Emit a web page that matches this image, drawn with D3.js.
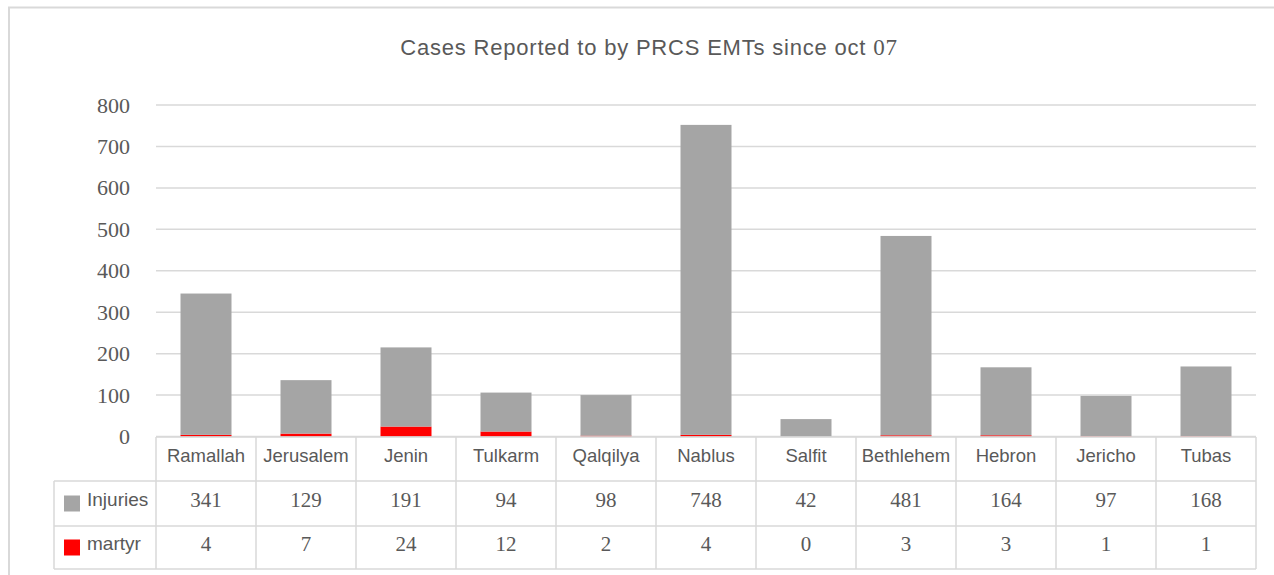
<!DOCTYPE html>
<html>
<head>
<meta charset="utf-8">
<script src="https://cdn.jsdelivr.net/npm/d3@7"></script>
<style>
  body { margin: 0; background: #fff; }
  svg { display: block; }
</style>
</head>
<body>
<div id="chart"></div>
<script>
// Data
const categories = ['Ramallah', 'Jerusalem', 'Jenin', 'Tulkarm', 'Qalqilya', 'Nablus', 'Salfit', 'Bethlehem', 'Hebron', 'Jericho', 'Tubas'];
const injuries = [341, 129, 191, 94, 98, 748, 42, 481, 164, 97, 168];
const martyr = [4, 7, 24, 12, 2, 4, 0, 3, 3, 1, 1];
const yTicks = [0, 100, 200, 300, 400, 500, 600, 700, 800];
const seriesNames = ['Injuries', 'martyr'];
const seriesColors = { Injuries: '#a5a5a5', martyr: '#ff0000' };

const width = 1274, height = 575;
const gridColor = '#d9d9d9';
const textColor = '#595959';
const serif = '"Liberation Serif", "Times New Roman", serif';
const sans = '"Liberation Sans", Arial, sans-serif';

const svg = d3.select('#chart')
    .append('svg')
    .attr('width', width)
    .attr('height', height);

// Chart frame (top + left edge visible)
svg.append('path')
    .attr('d', `M9,${height} L9,7.5 L${width},7.5`)
    .attr('fill', 'none')
    .attr('stroke', gridColor)
    .attr('stroke-width', 2);

// Title
const title = svg.append('text')
    .attr('x', 649)
    .attr('y', 55)
    .attr('text-anchor', 'middle')
    .attr('fill', textColor)
    .style('font-size', '22px')
    .style('letter-spacing', '0.8px')
    .style('font-family', sans);
title.append('tspan').text('Cases Reported to by PRCS EMTs since oct ');
title.append('tspan').style('font-family', serif).style('font-size', '23px').text('07');

// Scales
const x = d3.scaleBand()
    .domain(categories)
    .range([156, 1256])
    .paddingInner(0.49)
    .paddingOuter(0.245);

const y = d3.scaleLinear()
    .domain([0, 800])
    .range([436.5, 105]);

// Gridlines
svg.append('g')
    .selectAll('line')
    .data(yTicks)
    .join('line')
    .attr('x1', 156)
    .attr('x2', 1256)
    .attr('y1', d => y(d))
    .attr('y2', d => y(d))
    .attr('stroke', gridColor)
    .attr('stroke-width', 1.5);

// Y axis labels
const yAxis = svg.append('g')
    .attr('transform', 'translate(130,0)')
    .call(d3.axisLeft(y).tickValues(yTicks).tickSize(0).tickPadding(0));
yAxis.select('.domain').remove();
yAxis.selectAll('text')
    .attr('fill', textColor)
    .style('font-size', '22px')
    .style('font-family', serif);

// Stacked bars (martyr at bottom, injuries on top)
const rows = categories.map((c, i) => ({ cat: c, martyr: martyr[i], Injuries: injuries[i] }));
const stack = d3.stack().keys(['martyr', 'Injuries'])(rows);

svg.append('g')
    .selectAll('g')
    .data(stack)
    .join('g')
    .attr('fill', d => seriesColors[d.key])
    .selectAll('rect')
    .data(d => d)
    .join('rect')
    .attr('x', d => x(d.data.cat))
    .attr('width', x.bandwidth())
    .attr('y', d => y(d[1]))
    .attr('height', d => y(d[0]) - y(d[1]));

// Data table
const step = x.step();
const left = 156, right = 1256, legendLeft = 54;
const rowY = [437, 481, 526, 569];
const table = svg.append('g')
    .attr('stroke', gridColor)
    .attr('stroke-width', 1.5);

table.append('line').attr('x1', left).attr('x2', right).attr('y1', rowY[0]).attr('y2', rowY[0]);
rowY.slice(1).forEach(yy => {
    table.append('line').attr('x1', legendLeft).attr('x2', right).attr('y1', yy).attr('y2', yy);
});
d3.range(categories.length + 1).forEach(i => {
    const xx = left + i * step;
    table.append('line').attr('x1', xx).attr('x2', xx).attr('y1', rowY[0]).attr('y2', rowY[3]);
});
table.append('line').attr('x1', legendLeft).attr('x2', legendLeft).attr('y1', rowY[1]).attr('y2', rowY[3]);

// Category names
svg.append('g')
    .selectAll('text')
    .data(categories)
    .join('text')
    .attr('x', d => x(d) + x.bandwidth() / 2)
    .attr('y', 462)
    .attr('text-anchor', 'middle')
    .attr('fill', textColor)
    .style('font-size', '18.5px')
    .style('font-family', sans)
    .text(d => d);

// Value rows
const valueRows = [injuries, martyr];
const valueBase = [507, 551];
valueRows.forEach((vals, r) => {
    const cy = (rowY[r + 1] + rowY[r + 2]) / 2;
    svg.append('g')
        .selectAll('text')
        .data(vals)
        .join('text')
        .attr('x', (d, i) => x(categories[i]) + x.bandwidth() / 2)
        .attr('y', valueBase[r])
        .attr('text-anchor', 'middle')
        .attr('fill', textColor)
        .style('font-size', '21px')
        .style('font-family', serif)
        .text(d => d);

    // Legend key
    svg.append('rect')
        .attr('x', 64)
        .attr('y', cy - 8)
        .attr('width', 16)
        .attr('height', 16)
        .attr('fill', seriesColors[seriesNames[r]]);
    svg.append('text')
        .attr('x', 87)
        .attr('y', valueBase[r] - 1)
        .attr('fill', textColor)
        .style('font-size', '19px')
        .style('font-family', sans)
        .text(seriesNames[r]);
});
</script>
</body>
</html>
